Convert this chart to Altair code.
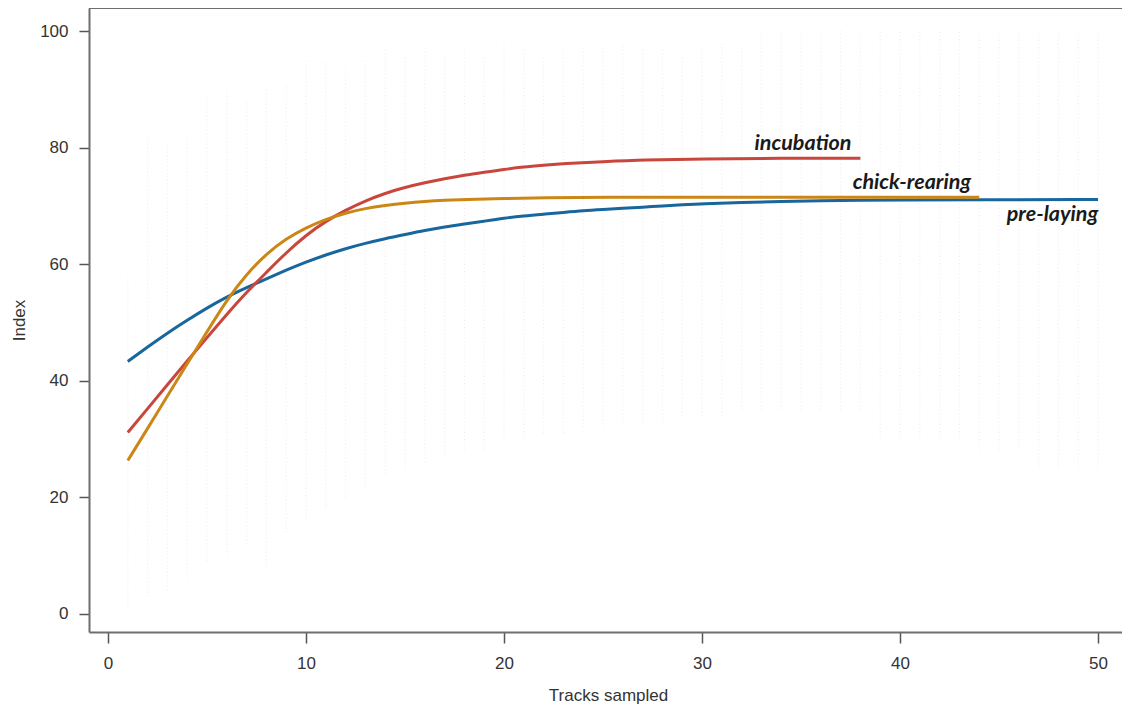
import altair as alt
import pandas as pd

# ---- data ----
pre_x = [1, 2, 3, 4, 5, 6, 7, 8, 9, 10, 11, 12, 13, 14, 15, 16, 17, 18, 19, 20,
         21, 22, 23, 24, 25, 26, 27, 28, 29, 30, 32, 34, 36, 38, 40, 44, 50]
pre_y = [43.3, 45.8, 48.2, 50.4, 52.5, 54.4, 56.0, 57.5, 59.0, 60.4, 61.6, 62.7, 63.6, 64.4, 65.1,
         65.8, 66.4, 66.9, 67.4, 67.9, 68.3, 68.6, 68.9, 69.2, 69.4, 69.6, 69.8, 70.0, 70.2, 70.4,
         70.6, 70.8, 70.9, 71.0, 71.0, 71.1, 71.1]

inc_x = [1, 2, 3, 4, 5, 6, 7, 8, 9, 10, 11, 12, 13, 14, 15, 16, 17, 18, 19, 20,
         21, 22, 23, 25, 27, 30, 34, 38]
inc_y = [31.1, 35.2, 39.3, 43.4, 47.4, 51.4, 55.2, 58.6, 62.0, 65.0, 67.4, 69.3, 70.9, 72.2, 73.2,
         74.0, 74.7, 75.3, 75.8, 76.3, 76.7, 77.0, 77.3, 77.6, 77.9, 78.1, 78.2, 78.2]

chk_x = [1, 2, 3, 4, 5, 6, 7, 8, 9, 10, 11, 12, 13, 14, 15, 16, 17, 18, 20, 22, 25, 30, 35, 44]
chk_y = [26.3, 31.8, 37.4, 42.9, 48.4, 53.9, 58.3, 61.8, 64.4, 66.3, 67.7, 68.8, 69.6, 70.1, 70.5,
         70.8, 71.0, 71.1, 71.3, 71.4, 71.5, 71.5, 71.5, 71.5]

# faint resampling columns (approximate extent of the dots at each sample size)
dot_x = list(range(1, 51))
dot_lo = [1, 3, 4, 6, 9, 10, 12, 8, 14, 16, 18, 20, 22, 24, 25, 26, 27, 28, 28, 30,
          30, 31, 31, 32, 32, 33, 33, 33, 34, 34, 34, 35, 35, 35, 35, 35, 35, 35, 30, 30,
          30, 30, 30, 28, 28, 28, 25, 25, 25, 25]
dot_hi = [58, 82, 81, 82, 89, 90, 88, 90, 91, 95, 95, 94, 95, 97, 96, 97, 96, 97, 96, 98,
          97, 96, 97, 97, 97, 98, 97, 97, 96, 97, 98, 97, 100, 100, 100, 100, 100, 100, 100, 100,
          100, 100, 100, 100, 100, 100, 100, 100, 100, 100]

label_text = ["incubation", "chick-rearing", "pre-laying"]
label_x = [35.1, 40.6, 47.7]
label_y = [80.6, 74.0, 68.5]

series_names = ["pre-laying", "incubation", "chick-rearing"]
series_colors = ["#17679E", "#C8463C", "#CC8616"]

# ---- tables ----
lines = pd.concat([
    pd.DataFrame({"x": pre_x, "y": pre_y, "series": "pre-laying", "order": 0}),
    pd.DataFrame({"x": inc_x, "y": inc_y, "series": "incubation", "order": 1}),
    pd.DataFrame({"x": chk_x, "y": chk_y, "series": "chick-rearing", "order": 2}),
], ignore_index=True)
dots = pd.DataFrame({"x": dot_x, "lo": dot_lo, "hi": dot_hi})
labels = pd.DataFrame({"text": label_text, "x": label_x, "y": label_y})

W, H = 1033, 624
FRAME = "#6e6e6e"

xscale = alt.Scale(domain=[-0.96, 51.21], nice=False, zero=False)
yscale = alt.Scale(domain=[-3.15, 104.0], nice=False, zero=False)

xaxis = alt.Axis(values=[0, 10, 20, 30, 40, 50], title="Tracks sampled", grid=False,
                 domainColor=FRAME, domainWidth=2, tickColor="#555555", tickWidth=1.5,
                 tickSize=11, labelPadding=12, labelFontSize=17, labelColor="#333333",
                 labelFont="Liberation Sans", titleFont="Liberation Sans", titleFontSize=17,
                 titleFontWeight="normal", titleColor="#333333", titleX=519, titleY=63,
                 titleBaseline="middle", titleAlign="center")
yaxis = alt.Axis(values=[0, 20, 40, 60, 80, 100], title="Index", grid=False,
                 domainColor=FRAME, domainWidth=2, tickColor="#555555", tickWidth=1.5,
                 tickSize=10, labelPadding=11, labelFontSize=17, labelColor="#333333",
                 labelFont="Liberation Sans", titleFont="Liberation Sans", titleFontSize=17,
                 titleFontWeight="normal", titleColor="#333333", titleX=-70, titleY=312,
                 titleAngle=270, titleAlign="center", titleBaseline="middle")

dot_layer = alt.Chart(dots).mark_rule(
    color="#c98f8f", opacity=0.17, strokeWidth=1.2, strokeDash=[1, 2.5]
).encode(
    x=alt.X("x:Q", scale=xscale, axis=xaxis),
    y=alt.Y("lo:Q", scale=yscale, axis=yaxis),
    y2="hi:Q",
)

line_layer = alt.Chart(lines).mark_line(strokeWidth=3, interpolate="basis").encode(
    x=alt.X("x:Q", scale=xscale),
    y=alt.Y("y:Q", scale=yscale),
    color=alt.Color("series:N", scale=alt.Scale(domain=series_names, range=series_colors), legend=None),
    order="order:Q",
    detail="series:N",
)

text_layer = alt.Chart(labels).mark_text(
    font="Lato", fontSize=21.5, fontWeight="bold", fontStyle="italic", color="#1a1a1a",
    align="center", baseline="middle"
).encode(
    x=alt.X("x:Q", scale=xscale),
    y=alt.Y("y:Q", scale=yscale),
    text="text:N",
)

top_frame = alt.Chart(labels).mark_rule(color=FRAME, strokeWidth=2).encode(
    x=alt.value(0), x2=alt.value(W), y=alt.value(0)
)

chart = alt.layer(dot_layer, line_layer, text_layer, top_frame).properties(
    width=W, height=H,
    autosize=alt.AutoSizeParams(type="none"),
    padding={"left": 81, "top": 0, "right": 0, "bottom": 74},
).configure_view(stroke=None).configure(background="white")

chart.save("out.html", embed_options={"renderer": "svg", "actions": False})
